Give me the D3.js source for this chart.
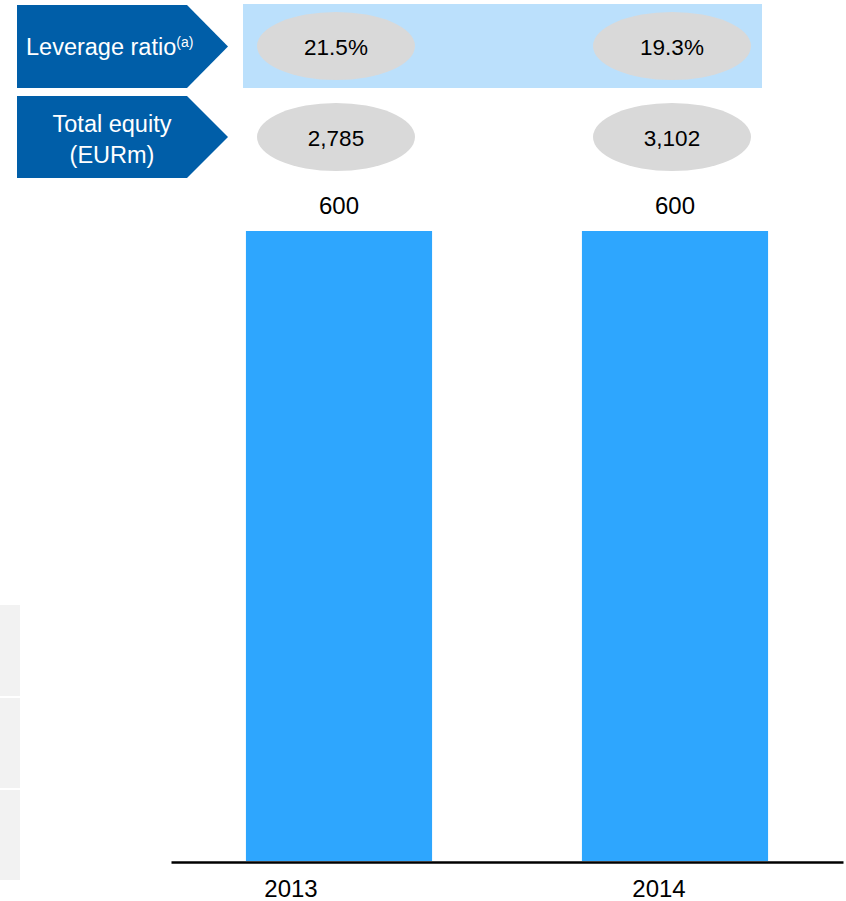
<!DOCTYPE html>
<html>
<head>
<meta charset="utf-8">
<script src="https://cdn.jsdelivr.net/npm/d3@7/dist/d3.min.js"></script>
<style>
  html, body { margin: 0; padding: 0; background: #fff; }
  svg { display: block; font-family: "Liberation Sans", Arial, sans-serif; }
</style>
</head>
<body>
<svg id="chart" width="846" height="901"></svg>
<script>
// Chart data
const years = ["2013", "2014"];
const notesAmount = [600, 600];            // EURm, bar values
const leverageRatio = [21.5, 19.3];        // %
const totalEquity = [2785, 3102];          // EURm
const rowHeaders = [["Leverage ratio"], ["Total equity", "(EURm)"]];

const svg = d3.select("#chart");

// Scales
const x = d3.scaleBand().domain(years).range([171, 843])
  .paddingInner(0.446).paddingOuter(0.223);
const xLabel = d3.scaleBand().domain(years).range([107, 843]);
const y = d3.scaleLinear().domain([0, 600]).range([861, 231]);

// Faint panel strip at the left edge
const strip = [[605, 696], [698, 788], [790, 880]];
svg.append("g").selectAll("rect").data(strip).join("rect")
  .attr("x", 0).attr("y", d => d[0]).attr("width", 20).attr("height", d => d[1] - d[0])
  .attr("fill", "#f2f2f2");

// Highlight band behind the leverage ratio row
svg.append("rect").attr("x", 243).attr("y", 4).attr("width", 519).attr("height", 84)
  .attr("fill", "#bbe0fc");

// Row header arrows
const rows = [{top: 5, bottom: 88}, {top: 96, bottom: 178}];
const arrowG = svg.append("g");
rows.forEach((r, i) => {
  const mid = (r.top + r.bottom) / 2;
  arrowG.append("path")
    .attr("d", d3.line()([[17, r.top], [187, r.top], [228, mid], [187, r.bottom], [17, r.bottom]]) + "Z")
    .attr("fill", "#005ea8");
});

// Row header texts
const h1 = arrowG.append("text").attr("x", 26).attr("y", 55)
  .attr("fill", "#fff").style("font-size", "23.5px");
h1.append("tspan").text(rowHeaders[0][0]);
h1.append("tspan").attr("dy", -8).style("font-size", "14px").text("(a)");

arrowG.append("text").attr("x", 112).attr("text-anchor", "middle")
  .attr("fill", "#fff").style("font-size", "23.5px")
  .selectAll("tspan").data(rowHeaders[1]).join("tspan")
  .attr("x", 112).attr("y", (d, i) => 132 + i * 31).text(d => d);

// Value ellipses
const fmtPct = d => d3.format(".1f")(d) + "%";
const fmtNum = d3.format(",");
const rowData = [
  {cy: 46, vals: leverageRatio, fmt: fmtPct},
  {cy: 137, vals: totalEquity, fmt: fmtNum}
];
rowData.forEach(row => {
  const g = svg.append("g");
  g.selectAll("ellipse").data(years).join("ellipse")
    .attr("cx", d => x(d) + x.bandwidth() / 2 - 3)
    .attr("cy", row.cy).attr("rx", 79).attr("ry", 34)
    .attr("fill", "#d9d9d9");
  g.selectAll("text").data(years).join("text")
    .attr("x", d => x(d) + x.bandwidth() / 2 - 3)
    .attr("y", row.cy + 8.5)
    .attr("text-anchor", "middle").style("font-size", "22.5px").attr("fill", "#000")
    .text((d, i) => row.fmt(row.vals[i]));
});

// Bars
svg.append("g").selectAll("rect").data(years).join("rect")
  .attr("x", d => x(d)).attr("width", x.bandwidth())
  .attr("y", (d, i) => y(notesAmount[i]))
  .attr("height", (d, i) => y(0) - y(notesAmount[i]))
  .attr("fill", "#2ea6fe");

// Bar value labels
svg.append("g").selectAll("text").data(years).join("text")
  .attr("x", d => x(d) + x.bandwidth() / 2)
  .attr("y", (d, i) => y(notesAmount[i]) - 17)
  .attr("text-anchor", "middle").style("font-size", "24px").attr("fill", "#000")
  .text((d, i) => notesAmount[i]);

// Baseline
const base = svg.append("g").attr("transform", `translate(0,${y(0) + 1})`)
  .call(d3.axisBottom(x).tickSize(0).tickFormat(""));
base.select(".domain").attr("stroke", "#000").attr("stroke-width", 2.5);

// Year labels
const lab = svg.append("g").attr("transform", `translate(0,${y(0) + 1})`)
  .call(d3.axisBottom(xLabel).tickSize(0).tickPadding(18));
lab.select(".domain").remove();
lab.selectAll("text").style("font-size", "24px").attr("fill", "#000")
  .style("font-family", "'Liberation Sans', Arial, sans-serif");
</script>
</body>
</html>
